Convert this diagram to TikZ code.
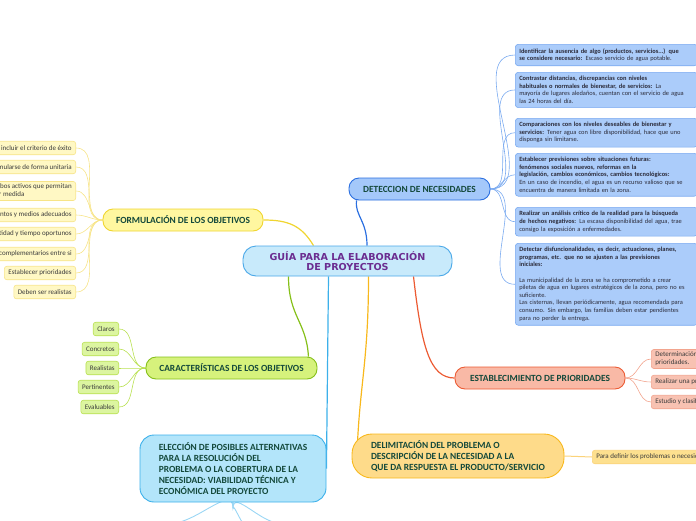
\documentclass[tikz,border=0pt]{standalone}
\usepackage{fontspec}
\setmainfont{Carlito}
\newfontfamily\titlefont{DejaVu Sans}
\usepackage{xcolor}
\usetikzlibrary{calc,backgrounds}

\definecolor{txtgreen}{HTML}{14493B}
\definecolor{leaftext}{HTML}{3B3B3B}
\definecolor{needtext}{HTML}{2B2B3A}
\definecolor{guiafill}{HTML}{C8EAFB}
\definecolor{guiadraw}{HTML}{4AA8E8}
\definecolor{titlepurple}{HTML}{6B2D90}
\definecolor{detfill}{HTML}{A4C8FA}
\definecolor{detdraw}{HTML}{2B6FE0}
\definecolor{needfill}{HTML}{ABCCFA}
\definecolor{needdraw}{HTML}{7AAAF0}
\definecolor{formfill}{HTML}{FFF7A0}
\definecolor{formdraw}{HTML}{F0D530}
\definecolor{formleaf}{HTML}{FFF8C4}
\definecolor{formleafdraw}{HTML}{F7E488}
\definecolor{carfill}{HTML}{D6F27C}
\definecolor{cardraw}{HTML}{86C01A}
\definecolor{carleaf}{HTML}{DCF5A0}
\definecolor{carleafdraw}{HTML}{B8E050}
\definecolor{estfill}{HTML}{F9B9A6}
\definecolor{estdraw}{HTML}{EC5B33}
\definecolor{estleaf}{HTML}{F8C2B2}
\definecolor{estleafdraw}{HTML}{F2A48E}
\definecolor{delfill}{HTML}{FEDB8A}
\definecolor{deldraw}{HTML}{F8B81C}
\definecolor{delleaf}{HTML}{FDE08F}
\definecolor{delleafdraw}{HTML}{FBD37A}
\definecolor{elefill}{HTML}{B3E5FA}
\definecolor{eledraw}{HTML}{3CB0EA}
\definecolor{elelink}{HTML}{9AD6F4}

\tikzset{
  branch/.style args={#1/#2}{fill=#1, draw=#2, line width=0.9pt, rounded corners=10pt,
    font=\bfseries\fontsize{9.4}{11}\selectfont, text=txtgreen, inner sep=0pt, align=left},
  leaf/.style args={#1/#2}{fill=#1, draw=#2, line width=0.6pt, rounded corners=2.5pt,
    font=\fontsize{7}{8}\selectfont, text=leaftext, inner xsep=4pt, inner ysep=2.5pt,
    minimum height=13.5, align=left},
  need/.style={fill=needfill, draw=needdraw, line width=0.6pt, rounded corners=3pt,
    text width=174pt, align=left, inner sep=4pt, font=\fontsize{6.4}{7.6}\selectfont,
    text=needtext, anchor=north west},
  mainlink/.style={line width=1.2pt, #1},
  leaflink/.style={line width=0.6pt, #1}
}

\begin{document}
\begin{tikzpicture}[x=1pt,y=-1pt]
  \useasboundingbox (0,0) rectangle (696,520);

  % centre
  \node[fill=guiafill, draw=guiadraw, line width=0.9pt, rounded corners=13pt,
        minimum width=209, minimum height=30, inner sep=0pt, align=center,
        font=\titlefont\bfseries\fontsize{9.6}{10.5}\selectfont, text=titlepurple]
        (guia) at (347.5,261) {GUÍA PARA LA ELABORACIÓN\\DE PROYECTOS};

  % main branches
  \node[branch=detfill/detdraw, minimum width=141, minimum height=22] (detect) at (419.5,189) {DETECCION DE NECESIDADES};
  \node[branch=formfill/formdraw, minimum width=160, minimum height=22] (form) at (183,220) {FORMULACIÓN DE LOS OBJETIVOS};
  \node[branch=carfill/cardraw, minimum width=171, minimum height=22] (caract) at (231.5,368) {CARACTERÍSTICAS DE LOS OBJETIVOS};
  \node[branch=estfill/estdraw, minimum width=170, minimum height=22] (estab) at (540,378) {ESTABLECIMIENTO DE PRIORIDADES};
  \node[branch=delfill/deldraw, minimum width=212, minimum height=44, rounded corners=20pt] (delim) at (458,456)
    {DELIMITACIÓN DEL PROBLEMA O\\DESCRIPCIÓN DE LA NECESIDAD A LA\\QUE DA RESPUESTA EL PRODUCTO/SERVICIO};
  \node[branch=elefill/eledraw, minimum width=186, minimum height=67, rounded corners=14pt,
        font=\bfseries\fontsize{9.4}{10.8}\selectfont] (elec) at (233,468.5)
    {ELECCIÓN DE POSIBLES ALTERNATIVAS\\PARA LA RESOLUCIÓN DEL\\PROBLEMA O LA COBERTURA DE LA\\NECESIDAD: VIABILIDAD TÉCNICA Y\\ECONÓMICA DEL PROYECTO};

  % detección de necesidades
  \node[need] (nd1) at (515,44) {{\bfseries Identificar la ausencia de algo (productos, servicios...) que\\se considere necesario:} Escaso servicio de agua potable.};
  \node[need] (nd2) at (515,72) {{\bfseries Contrastar distancias, discrepancias con niveles\\habituales o normales de bienestar, de servicios:} La\\mayoría de lugares aledaños, cuentan con el servicio de agua\\las 24 horas del día.};
  \node[need] (nd3) at (515,118) {{\bfseries Comparaciones con los niveles deseables de bienestar y\\servicios:} Tener agua con libre disponibilidad, hace que uno\\disponga sin limitarse.};
  \node[need] (nd4) at (515,153) {{\bfseries Establecer previsiones sobre situaciones futuras:\\fenómenos sociales nuevos, reformas en la\\legislación, cambios económicos, cambios tecnológicos:}\\En un caso de incendio, el agua es un recurso valioso que se\\encuentra de manera limitada en la zona.};
  \node[need] (nd5) at (515,207) {{\bfseries Realizar un análisis crítico de la realidad para la búsqueda\\de hechos negativos:} La escasa disponibilidad del agua, trae\\consigo la exposición a enfermedades.};
  \node[need] (nd6) at (515,243) {{\bfseries Detectar disfuncionalidades, es decir, actuaciones, planes,\\programas, etc. que no se ajusten a las previsiones\\iniciales:}\\[7.6pt]La municipalidad de la zona se ha comprometido a crear\\piletas de agua en lugares estratégicos de la zona, pero no es\\suficiente.\\Las cisternas, llevan periódicamente, agua recomendada para\\consumo. Sin embargo, las familias deben estar pendientes\\para no perder la entrega.};

  % formulación de los objetivos
  \foreach \n/\y/\t in {1/148/Deben incluir el criterio de éxito,
                        2/167/Formularse de forma unitaria,
                        3/191/Usar verbos activos que permitan\\su mejor medida,
                        4/215/Indicar instrumentos y medios adecuados,
                        5/234/Indicar cantidad y tiempo oportunos,
                        6/254/Ser complementarios entre si,
                        7/273/Establecer prioridades,
                        8/292/Deben ser realistas}
    \node[leaf=formleaf/formleafdraw, anchor=east] (fl\n) at (76,\y) {\t};

  % características de los objetivos
  \foreach \n/\y/\t in {1/329/Claros, 2/349/Concretos, 3/368/Realistas, 4/387/Pertinentes, 5/407/Evaluables}
    \node[leaf=carleaf/carleafdraw, anchor=east] (cl\n) at (119,\y) {\t};

  % establecimiento de prioridades
  \foreach \n/\y/\t in {1/359/Determinación de\\prioridades.,
                        2/382/Realizar una priorización de necesidades,
                        3/402/Estudio y clasificación de necesidades}
    \node[leaf=estleaf/estleafdraw, anchor=west] (el\n) at (651,\y) {\t};

  % delimitación
  \node[leaf=delleaf/delleafdraw, anchor=west] (dl1) at (592,457) {Para definir los problemas o necesidades};

  \coordinate (eb1) at (167,523);
  \coordinate (eb2) at (245,523);
  \coordinate (eb3) at (283,523);

  \begin{scope}[on background layer]
    \draw[mainlink=detdraw] ($(guia.north)+(19.5,0)$) .. controls +(0,-25) and +(-2,15) .. ($(detect.south west)+(8,0)$);
    \draw[mainlink=formdraw] ($(guia.north)+(-34,0)$) .. controls +(-12,-20) and +(25,0) .. (form.east);
    \draw[mainlink=cardraw] ($(guia.south)+(-59,0)$) .. controls +(0,40) and +(-2,-35) .. ($(caract.north east)+(-9,0)$);
    \draw[mainlink=deldraw] ($(guia.south)+(21,0)$) .. controls +(0,80) and +(3,-60) .. ($(delim.north west)+(6,8)$);
    \draw[mainlink=estdraw] ($(guia.south)+(66,0)$) .. controls +(8,70) and +(-25,0) .. (estab.west);
    \draw[mainlink=eledraw] ($(guia.south)+(-19,0)$) -- (elec.east);

    \foreach \n in {1,...,6}
      \draw[leaflink=needdraw] (detect.east) to[out=0,in=180] (nd\n.west);
    \foreach \n in {1,...,8}
      \draw[leaflink=formleafdraw] (fl\n.east) to[out=0,in=180] (form.west);
    \foreach \n in {1,...,5}
      \draw[leaflink=carleafdraw] (cl\n.east) to[out=0,in=180] (caract.west);
    \foreach \n in {1,2,3}
      \draw[leaflink=estleafdraw] (estab.east) to[out=0,in=180] (el\n.west);
    \draw[leaflink=delleafdraw, line width=1pt] (delim.east) -- (dl1.west);

    % y runs downwards here, so out=90 points down the page
    \foreach \n/\a in {1/-10, 2/-100, 3/190}
      \draw[leaflink=elelink, line width=0.9pt] (elec.south) -- ++(0,6) to[out=90,in=\a] (eb\n);
  \end{scope}
\end{tikzpicture}
\end{document}
